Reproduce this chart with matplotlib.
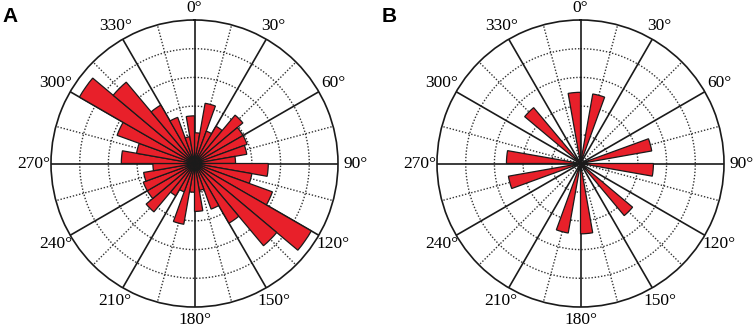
import numpy as np
import matplotlib
matplotlib.use("Agg")
from matplotlib import pyplot as plt

# bin starts in degrees (10 degree bins), clockwise from north
bins_a = list(range(0, 360, 10))
# radial lengths in grid-ring units (outer circle = 5)
values_a = [1.07, 2.13, 1.2, 1.5, 2.2, 1.95, 1.95, 1.85, 1.43,
            2.57, 2.03, 2.89, 4.7, 3.74, 2.4, 1.69, 0.95, 1.67,
            1.0, 2.15, 1.05, 1.3, 2.2, 1.9, 1.9, 1.8, 1.45,
            2.55, 2.05, 2.87, 4.63, 3.7, 2.35, 1.71, 0.95, 1.66]

bins_b = [10, 70, 90, 130, 170, 190, 250, 270, 310, 350]
values_b = [2.46, 2.52, 2.54, 2.37, 2.45, 2.46, 2.55, 2.58, 2.54, 2.48]

label_angles = list(range(0, 360, 30))
tick_labels = [f"{a}°" for a in label_angles]

bar_color = "#e8202a"
ring_max = 5

fig = plt.figure(figsize=(7.54, 3.32), dpi=100)


def rose(rect, bins, values, letter, letter_x):
    ax = fig.add_axes(rect, projection="polar")
    ax.set_theta_zero_location("N")
    ax.set_theta_direction(-1)
    ax.set_ylim(0, ring_max)
    ax.grid(False)
    ax.set_xticks([])
    ax.set_yticks([])
    ax.spines["polar"].set_linewidth(1.2)
    ax.spines["polar"].set_color("#1a1a1a")

    full = np.linspace(0, 2 * np.pi, 361)
    for r in range(1, ring_max):
        ax.plot(full, np.full_like(full, r), color="#333333", lw=1.0,
                ls=(0, (1, 1.3)), zorder=1)
    for a in range(15, 360, 30):
        ax.plot([np.deg2rad(a)] * 2, [0, ring_max], color="#333333", lw=1.0,
                ls=(0, (1, 1.3)), zorder=1)
    for a in label_angles:
        ax.plot([np.deg2rad(a)] * 2, [0, ring_max], color="#1a1a1a", lw=1.2,
                zorder=2)

    ax.bar(np.deg2rad(bins), values, width=np.deg2rad(10), align="edge",
           color=bar_color, edgecolor="#1a1a1a", linewidth=0.9, zorder=3)

    px = 143.5 / ring_max
    for a, lab in zip(label_angles, tick_labels):
        r_px = 156 + 5 * abs(np.sin(np.deg2rad(a)))
        ax.text(np.deg2rad(a), r_px / px, lab, ha="center", va="center",
                fontsize=12.5, family="Liberation Serif", clip_on=False)

    fig.text(letter_x, 0.978, letter, ha="left", va="top", fontsize=15,
             fontweight="bold", family="Liberation Sans")
    return ax


w = 287 / 754
h = 287 / 332
rose([51 / 754, 25 / 332, w, h], bins_a, values_a, "A", 0.003)
rose([437 / 754, 25 / 332, w, h], bins_b, values_b, "B", 382 / 754)

fig.savefig("out.png", dpi=100)
